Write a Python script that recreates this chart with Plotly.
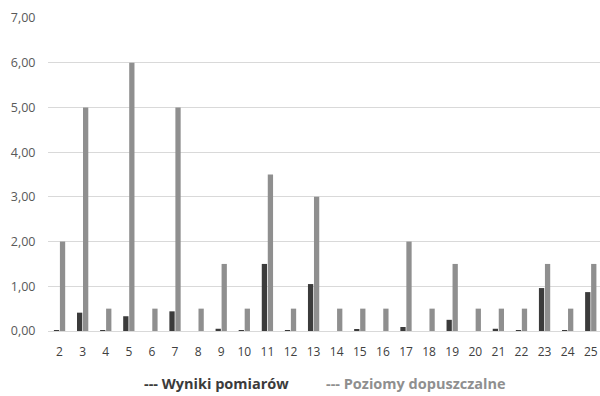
import plotly.graph_objects as go

categories = [str(i) for i in range(2, 26)]
wyniki = [0.02, 0.41, 0.02, 0.33, 0.0, 0.44, 0.0, 0.05, 0.02, 1.50, 0.02, 1.05,
          0.0, 0.03, 0.0, 0.09, 0.0, 0.25, 0.0, 0.05, 0.02, 0.96, 0.02, 0.87]
poziomy = [2.0, 5.0, 0.5, 6.0, 0.5, 5.0, 0.5, 1.5, 0.5, 3.5, 0.5, 3.0,
           0.5, 0.5, 0.5, 2.0, 0.5, 1.5, 0.5, 0.5, 0.5, 1.5, 0.5, 1.5]
y_ticks = [0, 1, 2, 3, 4, 5, 6, 7]

DARK = "#3b3b3b"
GRAY = "#8f8f8f"
FONT = "Open Sans"

fig = go.Figure()
fig.add_trace(go.Bar(x=categories, y=wyniki, name="--- Wyniki pomiarów",
                     marker=dict(color=DARK, line=dict(width=0)), showlegend=False))
fig.add_trace(go.Bar(x=categories, y=poziomy, name="--- Poziomy dopuszczalne",
                     marker=dict(color=GRAY, line=dict(width=0)), showlegend=False))

fig.update_layout(
    width=600, height=396,
    margin=dict(l=48, r=0, t=18, b=65),
    paper_bgcolor="white", plot_bgcolor="white",
    barmode="group", bargap=0.48, bargroupgap=0.12,
    separators=", ",
    font=dict(family=FONT, size=12, color="#595959"),
    xaxis=dict(type="category", range=[-0.5, 23.4], showgrid=False,
               showline=True, linecolor="#d9d9d9", linewidth=1,
               ticks="outside", ticklen=10, tickcolor="rgba(0,0,0,0)",
               tickfont=dict(family=FONT, size=12, color="#404040")),
    yaxis=dict(range=[0, 7], tickvals=y_ticks, tickformat=".2f",
               showgrid=True, gridcolor="#d9d9d9", gridwidth=1,
               zeroline=True, zerolinecolor="#d9d9d9", zerolinewidth=1,
               showline=False, ticks="outside", ticklen=9,
               tickcolor="rgba(0,0,0,0)",
               tickfont=dict(family=FONT, size=12.5, color="#595959")),
    annotations=[
        dict(text="<b>--- Wyniki pomiarów</b>", xref="paper", yref="paper",
             x=0.306, y=-0.168, xanchor="center", yanchor="middle", showarrow=False,
             font=dict(family=FONT, size=14.5, color=DARK)),
        dict(text="<b>--- Poziomy dopuszczalne</b>", xref="paper", yref="paper",
             x=0.667, y=-0.168, xanchor="center", yanchor="middle", showarrow=False,
             font=dict(family=FONT, size=14.5, color=GRAY)),
    ],
)

fig.write_html("out.html")
